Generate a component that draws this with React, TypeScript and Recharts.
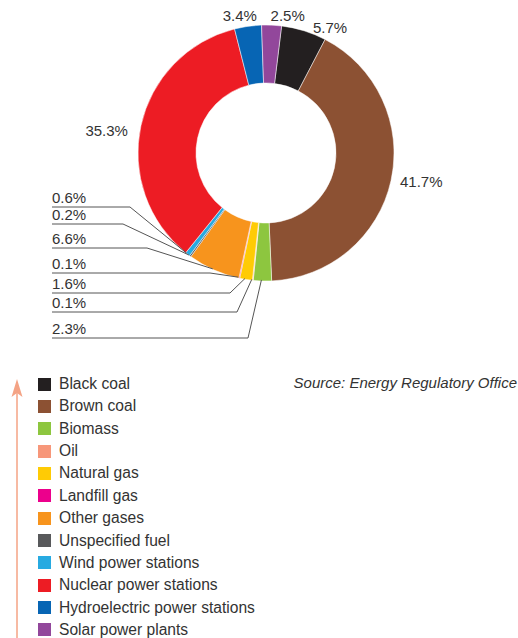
import { PieChart, Pie, Cell } from 'recharts'

const categories = [
  'Black coal',
  'Brown coal',
  'Biomass',
  'Oil',
  'Natural gas',
  'Landfill gas',
  'Other gases',
  'Unspecified fuel',
  'Wind power stations',
  'Nuclear power stations',
  'Hydroelectric power stations',
  'Solar power plants',
]

const shares = [5.7, 41.7, 2.3, 0.1, 1.6, 0.1, 6.6, 0.2, 0.6, 35.3, 3.4, 2.5]

const colors = [
  '#231f20',
  '#8c5133',
  '#8dc63f',
  '#f7977a',
  '#ffcb05',
  '#ec008c',
  '#f7941d',
  '#58595b',
  '#27aae1',
  '#ed1c24',
  '#0765b4',
  '#92479b',
]

const sourceText = 'Source: Energy Regulatory Office'

const data = categories.map((name, i) => ({ name, value: shares[i] }))

// label placement (layout only)
const outerLabels: Record<number, { anchor: 'start' | 'end'; dx: number; dy: number }> = {
  0: { anchor: 'start', dx: 9, dy: -3 },
  1: { anchor: 'start', dx: 9, dy: 1 },
  9: { anchor: 'end', dx: -13, dy: 5 },
  10: { anchor: 'end', dx: 9, dy: -11 },
  11: { anchor: 'start', dx: -1, dy: -10 },
}

const leftLabels: Record<number, { lineY: number; bendX: number }> = {
  8: { lineY: 207, bendX: 130 },
  7: { lineY: 224, bendX: 123 },
  6: { lineY: 248, bendX: 147 },
  5: { lineY: 273, bendX: 210 },
  4: { lineY: 293, bendX: 230 },
  3: { lineY: 312, bendX: 237 },
  2: { lineY: 338, bendX: 248 },
}

const RADIAN = Math.PI / 180
const textColor = '#333'

function renderLabel(props: any) {
  const { cx, cy, midAngle, outerRadius, index, value } = props
  const px = cx + outerRadius * Math.cos(-midAngle * RADIAN)
  const py = cy + outerRadius * Math.sin(-midAngle * RADIAN)
  const text = value.toFixed(1) + '%'
  const o = outerLabels[index]
  if (o) {
    return (
      <text
        key={index}
        x={px + o.dx}
        y={py + o.dy}
        textAnchor={o.anchor}
        dominantBaseline="central"
        fontSize={15}
        fill={textColor}
        fontFamily="Liberation Sans, Arial, sans-serif"
      >
        {text}
      </text>
    )
  }
  const l = leftLabels[index]
  if (!l) return null
  return (
    <g key={index}>
      <polyline
        points={`52,${l.lineY} ${l.bendX},${l.lineY} ${px - 1},${py - 1}`}
        fill="none"
        stroke="#555"
        strokeWidth={1}
      />
      <text
        x={52}
        y={l.lineY - 4}
        fontSize={15}
        fill={textColor}
        fontFamily="Liberation Sans, Arial, sans-serif"
      >
        {text}
      </text>
    </g>
  )
}

export default function App() {
  return (
    <div
      style={{
        position: 'absolute',
        left: 0,
        top: 0,
        width: 518,
        height: 638,
        background: '#fff',
        fontFamily: 'Liberation Sans, Arial, sans-serif',
        overflow: 'hidden',
      }}
    >
      <PieChart width={518} height={360} margin={{ top: 0, right: 0, bottom: 0, left: 0 }}>
        <Pie
          data={data}
          dataKey="value"
          nameKey="name"
          cx={266}
          cy={153}
          innerRadius={70}
          outerRadius={128}
          startAngle={83}
          endAngle={-277}
          stroke="#fff"
          strokeWidth={0.5}
          label={renderLabel}
          labelLine={false}
          isAnimationActive={false}
        >
          {data.map((d, i) => (
            <Cell key={d.name} fill={colors[i]} />
          ))}
        </Pie>
      </PieChart>

      <svg
        width={518}
        height={638}
        style={{ position: 'absolute', left: 0, top: 0, pointerEvents: 'none' }}
      >
        <line x1={17} y1={390} x2={17} y2={638} stroke="#f4a385" strokeWidth={1.5} />
        <polygon points="17,379 11.5,397 17,393 22.5,397" fill="#f4a385" />
      </svg>

      <div
        style={{
          position: 'absolute',
          left: 289,
          top: 374,
          width: 228,
          textAlign: 'right',
          fontStyle: 'italic',
          fontSize: 15,
          color: textColor,
          whiteSpace: 'nowrap',
        }}
      >
        {sourceText}
      </div>

      {categories.map((name, i) => (
        <div
          key={name}
          style={{
            position: 'absolute',
            left: 38,
            top: 384 + i * 22.36 - 10,
            height: 20,
            display: 'flex',
            alignItems: 'center',
            fontSize: 15.6,
            color: textColor,
            whiteSpace: 'nowrap',
          }}
        >
          <span
            style={{
              display: 'inline-block',
              width: 13,
              height: 13,
              background: colors[i],
              marginRight: 8,
            }}
          />
          {name}
        </div>
      ))}
    </div>
  )
}
